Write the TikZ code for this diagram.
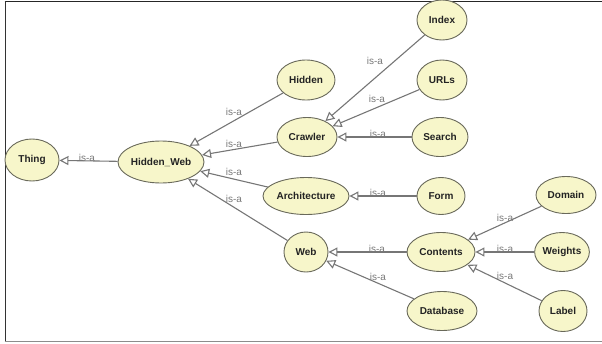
\documentclass[tikz,border=0pt]{standalone}
\usepackage{fontspec}
\setmainfont{Liberation Sans}
\usetikzlibrary{shapes.geometric,arrows.meta}
\definecolor{nodefill}{RGB}{247,246,202}
\definecolor{nodeline}{RGB}{105,105,90}
\definecolor{edgecol}{RGB}{118,118,118}
\definecolor{lblcol}{RGB}{120,120,120}
\definecolor{txtcol}{RGB}{35,35,35}
\begin{document}
\begin{tikzpicture}[x=1pt,y=-1pt,
  cls/.style={ellipse,draw=nodeline,line width=0.9pt,fill=nodefill,inner sep=0pt,
    font=\bfseries\fontsize{10}{12}\selectfont,text=txtcol},
  isa/.style={draw=edgecol,line width=1.1pt,
    -{Triangle[open,length=9pt,width=9pt,fill=white]}},
  lbl/.style={font=\fontsize{10}{12}\selectfont,text=lblcol,inner sep=0pt},
  frame/.style={line width=1.6pt}]
\useasboundingbox (0,0) rectangle (602,343);
% frame
\draw[frame,black!85] (4.7,1.4) -- (602,1.4);
\draw[frame,black!80] (5.5,1.4) -- (5.5,341.5);
\draw[frame,black!45] (4.7,341.5) -- (602,341.5);
% nodes
\node[cls,minimum width=54pt,minimum height=42pt] (thing) at (32,160) {Thing};
\node[cls,minimum width=86pt,minimum height=42pt] (hw) at (161,162) {Hidden\_Web};
\node[cls,minimum width=58pt,minimum height=40pt] (hidden) at (306,80) {Hidden};
\node[cls,minimum width=60pt,minimum height=39pt] (crawler) at (307,137) {Crawler};
\node[cls,minimum width=50pt,minimum height=40pt] (index) at (442,20) {Index};
\node[cls,minimum width=50pt,minimum height=40pt] (urls) at (442,80) {URLs};
\node[cls,minimum width=56pt,minimum height=39pt] (search) at (440,137) {Search};
\node[cls,minimum width=86pt,minimum height=37pt] (arch) at (306,196) {Architecture};
\node[cls,minimum width=48pt,minimum height=37pt] (form) at (441,196) {Form};
\node[cls,minimum width=44pt,minimum height=40pt] (web) at (306,252) {Web};
\node[cls,minimum width=68pt,minimum height=39pt] (contents) at (441,252) {Contents};
\node[cls,minimum width=70pt,minimum height=39pt] (database) at (442,311) {Database};
\node[cls,minimum width=60pt,minimum height=37pt] (domain) at (566,195) {Domain};
\node[cls,minimum width=54pt,minimum height=39pt] (weights) at (562,252) {Weights};
\node[cls,minimum width=48pt,minimum height=41pt] (label) at (563,311) {Label};
% connectors
\draw[isa] (hw) -- (thing);
\draw[isa] (hidden) -- (hw);
\draw[isa] (crawler) -- (hw);
\draw[isa] (arch) -- (hw);
\draw[isa] (web) -- (hw);
\draw[isa] (index) -- (crawler);
\draw[isa] (urls) -- (crawler);
\draw[isa] (search) -- (crawler);
\draw[isa] (form) -- (arch);
\draw[isa] (contents) -- (web);
\draw[isa] (database) -- (web);
\draw[isa] (domain) -- (contents);
\draw[isa] (weights) -- (contents);
\draw[isa] (label) -- (contents);
% labels
\node[lbl] (lthing) at (87,157.5) {is-a};
\node[lbl] (lhidden) at (234,112) {is-a};
\node[lbl] (lcrawler) at (234,144) {is-a};
\node[lbl] (larch) at (234,172) {is-a};
\node[lbl] (lweb) at (234,199) {is-a};
\node[lbl] (lindex) at (375,61) {is-a};
\node[lbl] (lurls) at (377,99) {is-a};
\node[lbl] (lsearch) at (378,133.5) {is-a};
\node[lbl] (lform) at (378,192.5) {is-a};
\node[lbl] (lcontents) at (377,248.5) {is-a};
\node[lbl] (ldatabase) at (378,277) {is-a};
\node[lbl] (ldomain) at (505,218) {is-a};
\node[lbl] (lweights) at (505,248.5) {is-a};
\node[lbl] (llabel) at (505,276) {is-a};
\end{tikzpicture}
\end{document}
